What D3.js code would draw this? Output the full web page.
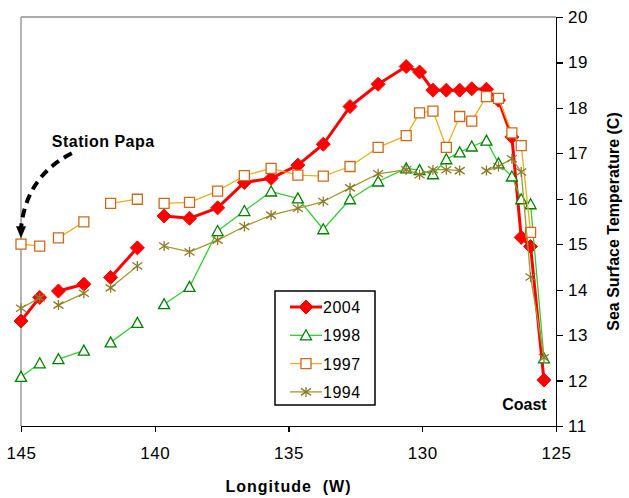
<!DOCTYPE html>
<html>
<head>
  <meta charset="utf-8">
  <title>Sea Surface Temperature vs Longitude</title>
  <script src="https://d3js.org/d3.v7.min.js"></script>
  <style>
    body { margin: 0; background: #fff; }
    .axis path, .axis line { stroke: #000; stroke-width: 1.3; shape-rendering: crispEdges; }
    .axis text { font-family: Arial, "Liberation Sans", sans-serif; font-size: 17px; fill: #000; letter-spacing: 0.5px; }
    .title { font-family: Arial, "Liberation Sans", sans-serif; font-weight: bold; font-size: 16px; fill: #000; }
    .legend text { font-family: Arial, "Liberation Sans", sans-serif; font-size: 16px; fill: #000; letter-spacing: 0.5px; }
  </style>
</head>
<body>
<script>
  // longitude (W) of each station, shared by every year
  var longitudes = [145, 144.3, 143.6, 142.65, 141.65, 140.65, 139.65, 138.7, 137.65, 136.65,
                    135.65, 134.65, 133.7, 132.7, 131.65, 130.6, 130.1, 129.6, 129.1, 128.6,
                    128.15, 127.6, 127.15, 126.65, 126.3, 125.95, 125.45];

  // line breaks after these station indices (no line drawn to the next station)
  var breaks = [1, 3, 5];

  var sst2004 = [13.31, 13.83, 13.97, 14.12, 14.27, 14.92, 15.62, 15.57, 15.80, 16.36,
                 16.45, 16.74, 17.20, 18.03, 18.52, 18.91, 18.79, 18.39, 18.39, 18.39,
                 18.42, 18.41, 18.17, 17.36, 15.15, 14.95, 12.01];
  var sst1998 = [12.08, 12.38, 12.47, 12.66, 12.84, 13.27, 13.68, 14.06, 15.29, 15.73,
                 16.16, 16.01, 15.33, 15.99, 16.38, 16.67, 16.63, 16.54, 16.87, 17.02,
                 17.15, 17.28, 16.78, 16.49, 15.99, 15.88, 12.49];
  var sst1997 = [15.00, 14.96, 15.14, 15.49, 15.90, 15.99, 15.90, 15.92, 16.17, 16.51,
                 16.67, 16.52, 16.50, 16.71, 17.13, 17.39, 17.89, 17.93, 17.13, 17.81,
                 17.71, 18.25, 18.21, 17.45, 17.17, 15.26, null];
  var sst1994 = [13.59, 13.82, 13.66, 13.92, 14.04, 14.52, 14.96, 14.83, 15.09, 15.39,
                 15.64, 15.79, 15.94, 16.24, 16.55, 16.64, 16.53, 16.64, 16.64, 16.62,
                 null, 16.62, 16.71, 16.88, 16.59, 14.28, 12.50];

  var seriesNames = ["2004", "1998", "1997", "1994"];
  var xTicks = [145, 140, 135, 130, 125];
  var yTicks = [11, 12, 13, 14, 15, 16, 17, 18, 19, 20];

  var w = 629, h = 498;
  var padL = 21, padR = 556, padT = 17, padB = 426;

  var svg = d3.select("body").append("svg")
    .attr("width", w)
    .attr("height", h);

  var x = d3.scaleLinear().domain([145, 125]).range([padL, padR]);
  var y = d3.scaleLinear().domain([11, 20]).range([padB, padT]);

  // grey frame on top and left
  svg.append("line").attr("x1", x(145)).attr("x2", x(125)).attr("y1", y(20)).attr("y2", y(20))
    .attr("stroke", "#8c8c8c").attr("stroke-width", 1.3);
  svg.append("line").attr("x1", x(145)).attr("x2", x(145)).attr("y1", y(20)).attr("y2", y(11))
    .attr("stroke", "#8c8c8c").attr("stroke-width", 1.3);

  svg.append("g")
    .attr("class", "axis")
    .attr("transform", "translate(0," + padB + ")")
    .call(d3.axisBottom(x).tickValues(xTicks).tickFormat(d3.format("d"))
      .tickSizeInner(6).tickSizeOuter(0).tickPadding(15));

  svg.append("g")
    .attr("class", "axis")
    .attr("transform", "translate(" + padR + ",0)")
    .call(d3.axisRight(y).tickValues(yTicks).tickFormat(d3.format("d"))
      .tickSizeInner(7).tickSizeOuter(0).tickPadding(5));

  // series styles
  var styles = {
    "2004": { values: sst2004, line: "#ff0000", width: 3, marker: "diamond", mstroke: "#ff0000", mfill: "#ff0000" },
    "1998": { values: sst1998, line: "#33cc33", width: 1.3, marker: "triangle", mstroke: "#008000", mfill: "#fff" },
    "1997": { values: sst1997, line: "#e8b020", width: 1.3, marker: "square", mstroke: "#cc6a1a", mfill: "#fff" },
    "1994": { values: sst1994, line: "#a09a30", width: 1.3, marker: "cross", mstroke: "#8c7a2a", mfill: "none" }
  };

  function markerPath(type) {
    if (type === "diamond") return "M0,-7L7,0L0,7L-7,0Z";
    if (type === "triangle") return "M0,-5.5L5.5,4.5L-5.5,4.5Z";
    if (type === "square") return "M-5,-5H5V5H-5Z";
    return "M-5,-3.5L5,3.5M-5,3.5L5,-3.5M0,-5V5";
  }

  var line = d3.line()
    .defined(function(d) { return d.v != null; })
    .x(function(d) { return x(d.lon); })
    .y(function(d) { return y(d.v); });

  seriesNames.forEach(function(name) {
    var s = styles[name];
    var pts = [];
    longitudes.forEach(function(lon, i) {
      pts.push({ lon: lon, v: s.values[i] });
      if (breaks.indexOf(i) >= 0) pts.push({ lon: lon, v: null });
    });
    var g = svg.append("g");
    g.append("path")
      .datum(pts)
      .attr("fill", "none")
      .attr("stroke", s.line)
      .attr("stroke-width", s.width)
      .attr("stroke-linejoin", "round")
      .attr("d", line);
    g.selectAll("path.m")
      .data(pts.filter(function(d) { return d.v != null; }))
      .enter().append("path")
      .attr("class", "m")
      .attr("transform", function(d) { return "translate(" + x(d.lon) + "," + y(d.v) + ")"; })
      .attr("d", markerPath(s.marker))
      .attr("fill", s.mfill)
      .attr("stroke", s.mstroke)
      .attr("stroke-width", s.marker === "diamond" ? 1 : 1.3);
  });

  // legend
  var legend = svg.append("g").attr("class", "legend").attr("transform", "translate(275,291)");
  legend.append("rect").attr("width", 100).attr("height", 114)
    .attr("fill", "#fff").attr("stroke", "#000").attr("stroke-width", 1.5);
  seriesNames.forEach(function(name, i) {
    var s = styles[name];
    var ly = 16 + i * 28.3;
    legend.append("line").attr("x1", 15).attr("x2", 47).attr("y1", ly).attr("y2", ly)
      .attr("stroke", s.line).attr("stroke-width", s.width);
    legend.append("path")
      .attr("transform", "translate(31," + ly + ")")
      .attr("d", markerPath(s.marker))
      .attr("fill", s.mfill).attr("stroke", s.mstroke)
      .attr("stroke-width", s.marker === "diamond" ? 1 : 1.3);
    legend.append("text").attr("x", 48).attr("y", ly + 6).text(name);
  });

  // axis titles
  svg.append("text").attr("class", "title")
    .attr("x", (padL + padR) / 2).attr("y", 492)
    .attr("text-anchor", "middle")
    .style("letter-spacing", "1px")
    .style("white-space", "pre")
    .text("Longitude  (W)");

  svg.append("text").attr("class", "title")
    .attr("transform", "translate(619," + (padT + padB) / 2 + ") rotate(-90)")
    .attr("text-anchor", "middle")
    .text("Sea Surface Temperature (C)");

  // annotations
  svg.append("text").attr("class", "title")
    .attr("x", x(143.85)).attr("y", y(17.14))
    .style("letter-spacing", "0.5px")
    .text("Station Papa");

  svg.append("text").attr("class", "title")
    .attr("x", x(125.35)).attr("y", y(11.35))
    .attr("text-anchor", "end")
    .text("Coast");

  var tipX = x(145), tipY = y(15.0) - 6;
  svg.append("path")
    .attr("d", "M" + x(143.1) + "," + y(17.0) + " Q" + x(144.8) + "," + y(16.5) + " " + tipX + "," + (tipY - 10))
    .attr("fill", "none")
    .attr("stroke", "#000")
    .attr("stroke-width", 4)
    .attr("stroke-dasharray", "9,6");
  svg.append("path")
    .attr("d", "M" + (tipX - 5) + "," + (tipY - 12) + "L" + (tipX + 5) + "," + (tipY - 12) + "L" + tipX + "," + tipY + "Z")
    .attr("fill", "#000");
</script>
</body>
</html>
